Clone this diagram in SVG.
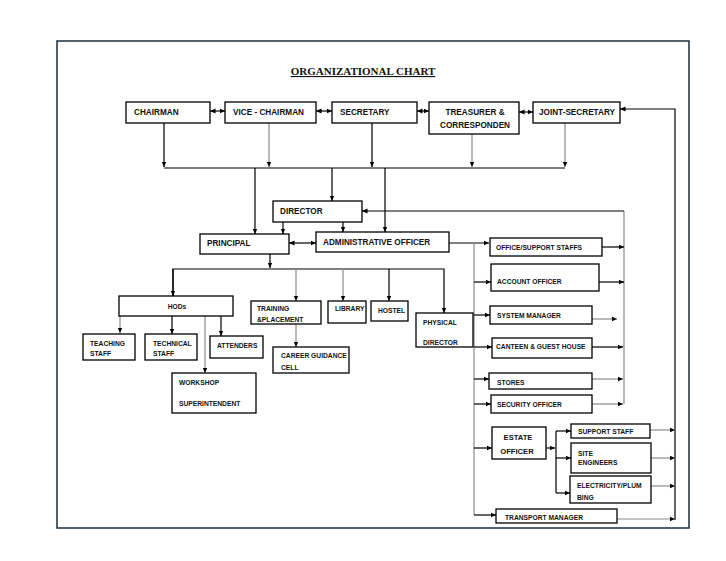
<svg xmlns="http://www.w3.org/2000/svg" width="726" height="561" viewBox="0 0 726 561">
<style>
.bx{fill:#fff;stroke:#000;stroke-width:1.3}
.c path{fill:none;stroke:#000;stroke-width:1.2}
.c path.g{stroke:#8a8a8a}
text{font-family:"Liberation Sans",Arial,sans-serif;font-weight:bold;fill:#111}
.L{font-size:8.2px}
.M{font-size:7.6px}
.S{font-size:6.7px}
</style>
<defs>
<marker id="a" viewBox="0 0 6 6" refX="6" refY="3" markerWidth="5.5" markerHeight="5.5" markerUnits="userSpaceOnUse" orient="auto-start-reverse"><path d="M0,0.4 L6,3 L0,5.6 z" fill="#000"/></marker>
</defs>
<rect x="0" y="0" width="726" height="561" fill="#fff"/>
<rect x="57" y="41" width="632" height="487" fill="none" stroke="#1b2b3b" stroke-width="1.5"/>
<text x="363" y="75" text-anchor="middle" style="font-family:'Liberation Serif','Times New Roman',serif;font-size:11px;font-weight:bold" text-decoration="underline">ORGANIZATIONAL CHART</text>

<g class="c" id="connectors">
<path d="M210,111 H225" marker-start="url(#a)" marker-end="url(#a)"/>
<path d="M316,111 H332" marker-start="url(#a)" marker-end="url(#a)"/>
<path d="M417,111 H429" marker-start="url(#a)" marker-end="url(#a)"/>
<path d="M519,112 H533" marker-start="url(#a)" marker-end="url(#a)"/>
<path d="M675,520 V109 H620" marker-end="url(#a)"/>
<path d="M164,123 V167" marker-end="url(#a)"/>
<path class="g" d="M269,123 V167" marker-end="url(#a)"/>
<path d="M372,123 V167" marker-end="url(#a)"/>
<path class="g" d="M472,134 V167" marker-end="url(#a)"/>
<path class="g" d="M565,123 V167" marker-end="url(#a)"/>
<path d="M164,168 H565"/>
<path d="M255,168 V234" marker-end="url(#a)"/>
<path d="M332,168 V201" marker-end="url(#a)"/>
<path d="M385,168 V232" marker-end="url(#a)"/>
<path class="g" d="M624,404 V211"/>
<path d="M624,211 H362" marker-end="url(#a)"/>
<path d="M283,222 V234" marker-end="url(#a)"/>
<path d="M343,222 V232" marker-end="url(#a)"/>
<path d="M289,243 H316" marker-start="url(#a)" marker-end="url(#a)"/>
<path d="M270,254 V268" marker-end="url(#a)"/>
<path d="M173,296 V269 H444 V313" marker-end="url(#a)"/>
<path d="M173,269 V296" marker-end="url(#a)"/>
<path class="g" d="M296,269 V301" marker-end="url(#a)"/>
<path class="g" d="M343,269 V301" marker-end="url(#a)"/>
<path d="M389,269 V301" marker-end="url(#a)"/>
<path class="g" d="M120,316 V333" marker-end="url(#a)"/>
<path d="M172,316 V334" marker-end="url(#a)"/>
<path d="M221,316 V336" marker-end="url(#a)"/>
<path class="g" d="M205,316 V373" marker-end="url(#a)"/>
<path class="g" d="M296,324 V347" marker-end="url(#a)"/>
<path d="M449,243 H489" marker-end="url(#a)"/>
<path class="g" d="M474,243 V515"/>
<path d="M474,515 H496" marker-end="url(#a)"/>
<path d="M474,282 H491" marker-end="url(#a)"/>
<path d="M474,315 H490" marker-end="url(#a)"/>
<path d="M474,347 H492" marker-end="url(#a)"/>
<path d="M474,379 H489" marker-end="url(#a)"/>
<path d="M474,404 H491" marker-end="url(#a)"/>
<path d="M474,448 H492" marker-end="url(#a)"/>
<path d="M602,247 H624" marker-end="url(#a)"/>
<path d="M599,282 H624" marker-end="url(#a)"/>
<path class="g" d="M592,319 H617" marker-end="url(#a)"/>
<path d="M592,347 H623" marker-end="url(#a)"/>
<path class="g" d="M592,379 H623" marker-end="url(#a)"/>
<path class="g" d="M592,404 H623" marker-end="url(#a)"/>
<path d="M546,448 H555" marker-end="url(#a)"/>
<path d="M556,431 V493"/>
<path d="M556,431 H571" marker-end="url(#a)"/>
<path d="M556,458 H571" marker-end="url(#a)"/>
<path d="M556,493 H570" marker-end="url(#a)"/>
<path class="g" d="M650,430 H675" marker-end="url(#a)"/>
<path class="g" d="M651,458 H675" marker-end="url(#a)"/>
<path class="g" d="M651,486 H675" marker-end="url(#a)"/>
<path class="g" d="M617,519 H675" marker-end="url(#a)"/>
</g>

<g id="chairman"><rect class="bx" x="126" y="102" width="84" height="21"/><text class="L" x="134" y="115">CHAIRMAN</text></g>
<g id="vice-chairman"><rect class="bx" x="225" y="102" width="91" height="21"/><text class="L" x="233" y="115">VICE - CHAIRMAN</text></g>
<g id="secretary"><rect class="bx" x="332" y="102" width="85" height="21"/><text class="L" x="340" y="115">SECRETARY</text></g>
<g id="treasurer"><rect class="bx" x="429" y="102" width="90" height="32"/><text class="L" x="475" y="115" text-anchor="middle">TREASURER &amp;</text><text class="L" x="475" y="128" text-anchor="middle">CORRESPONDEN</text></g>
<g id="joint-secretary"><rect class="bx" x="533" y="102" width="87" height="21"/><text class="L" x="539" y="115">JOINT-SECRETARY</text></g>

<g id="director"><rect class="bx" x="273" y="201" width="89" height="21"/><text class="L" x="280" y="214">DIRECTOR</text></g>
<g id="principal"><rect class="bx" x="200" y="234" width="89" height="20"/><text class="L" x="207" y="246">PRINCIPAL</text></g>
<g id="admin-officer"><rect class="bx" x="316" y="232" width="133" height="20"/><text class="L" x="323" y="245">ADMINISTRATIVE OFFICER</text></g>

<g id="hods"><rect class="bx" x="119" y="296" width="114" height="20"/><text class="S" x="177" y="308.5" text-anchor="middle">HODs</text></g>
<g id="teaching-staff"><rect class="bx" x="83" y="334" width="52" height="26"/><text class="S" x="90" y="345.5">TEACHING</text><text class="S" x="90" y="356">STAFF</text></g>
<g id="technical-staff"><rect class="bx" x="145" y="334" width="52" height="26"/><text class="S" x="153" y="345.5">TECHNICAL</text><text class="S" x="153" y="356">STAFF</text></g>
<g id="attenders"><rect class="bx" x="210" y="336" width="53" height="22"/><text class="S" x="217" y="347.5">ATTENDERS</text></g>
<g id="workshop"><rect class="bx" x="172" y="373" width="84" height="40"/><text class="S" x="179" y="384.5">WORKSHOP</text><text class="S" x="179" y="405.5">SUPERINTENDENT</text></g>
<g id="training"><rect class="bx" x="251" y="301" width="70" height="23"/><text class="S" x="257" y="310.5">TRAINING</text><text class="S" x="257" y="321.5">&amp;PLACEMENT</text></g>
<g id="career"><rect class="bx" x="273" y="347" width="76" height="26"/><text class="S" x="281" y="358">CAREER GUIDANCE</text><text class="S" x="281" y="369.5">CELL</text></g>
<g id="library"><rect class="bx" x="328" y="301" width="38" height="22"/><text class="S" x="335" y="310.5">LIBRARY</text></g>
<g id="hostel"><rect class="bx" x="371" y="301" width="37" height="20"/><text class="S" x="378" y="312.5">HOSTEL</text></g>
<g id="physical-director"><rect class="bx" x="416" y="313" width="57" height="34"/><text class="S" x="423" y="324.5">PHYSICAL</text><text class="S" x="423" y="344.5">DIRECTOR</text></g>

<g id="office-support"><rect class="bx" x="490" y="238" width="112" height="18"/><text class="S" x="496" y="249.5">OFFICE/SUPPORT STAFFS</text></g>
<g id="account-officer"><rect class="bx" x="491" y="264" width="108" height="27"/><text class="S" x="497" y="283.5">ACCOUNT OFFICER</text></g>
<g id="system-manager"><rect class="bx" x="490" y="306" width="102" height="18"/><text class="S" x="497" y="317.5">SYSTEM MANAGER</text></g>
<g id="canteen"><rect class="bx" x="492" y="338" width="100" height="20"/><text class="S" x="496" y="348.5">CANTEEN &amp; GUEST HOUSE</text></g>
<g id="stores"><rect class="bx" x="489" y="373" width="103" height="16"/><text class="S" x="497" y="384.5">STORES</text></g>
<g id="security-officer"><rect class="bx" x="491" y="395" width="101" height="18"/><text class="S" x="497" y="406.5">SECURITY OFFICER</text></g>
<g id="estate-officer"><rect class="bx" x="492" y="427" width="54" height="32"/><text class="M" x="518" y="440" text-anchor="middle">ESTATE</text><text class="M" x="517" y="454" text-anchor="middle">OFFICER</text></g>
<g id="support-staff"><rect class="bx" x="571" y="424" width="79" height="14"/><text class="S" x="578" y="433.5">SUPPORT STAFF</text></g>
<g id="site-engineers"><rect class="bx" x="571" y="443" width="80" height="30"/><text class="S" x="578" y="455.5">SITE</text><text class="S" x="578" y="464.5">ENGINEERS</text></g>
<g id="electricity"><rect class="bx" x="570" y="476" width="81" height="27"/><text class="S" x="577" y="487.5">ELECTRICITY/PLUM</text><text class="S" x="577" y="499.5">BING</text></g>
<g id="transport-manager"><rect class="bx" x="496" y="509" width="121" height="14"/><text class="S" x="505" y="519.5">TRANSPORT MANAGER</text></g>
</svg>
